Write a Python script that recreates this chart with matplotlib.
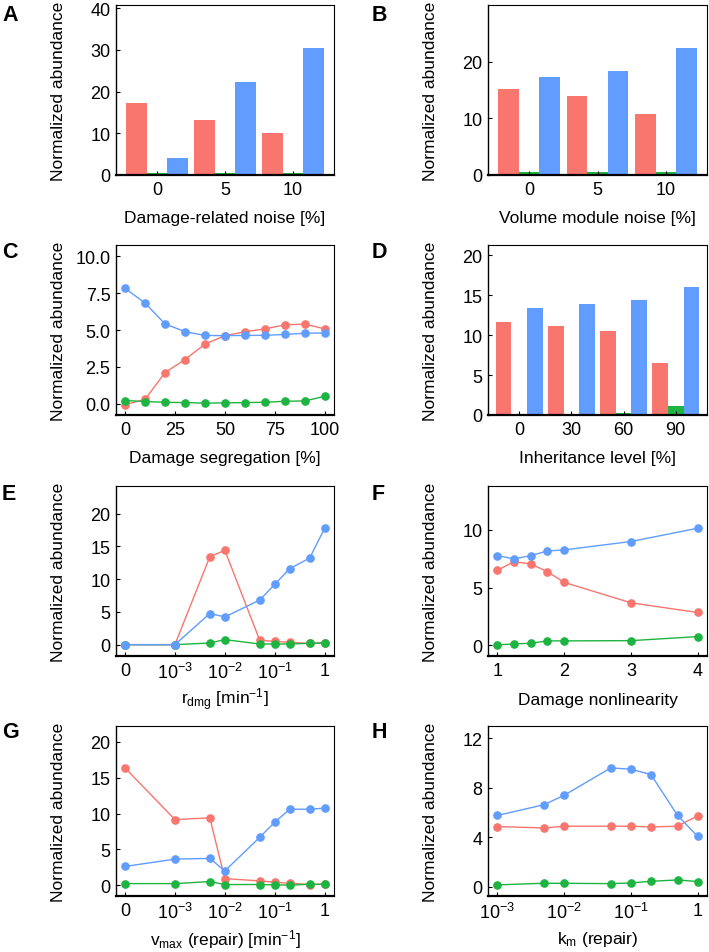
import numpy as np
import matplotlib
matplotlib.use("Agg")
import matplotlib.pyplot as plt

plt.rcParams['font.family'] = ['Liberation Sans', 'DejaVu Sans']
plt.rcParams['mathtext.fontset'] = 'custom'
plt.rcParams['mathtext.rm'] = 'Liberation Sans'
plt.rcParams['mathtext.it'] = 'Liberation Sans:italic'
plt.rcParams['mathtext.bf'] = 'Liberation Sans:bold'

RED = '#F8766D'
GREEN = '#1DB441'
BLUE = '#619CFF'

# ---- Panel A ----
a_cats = ['0', '5', '10']
a_red = [17.2, 13.2, 10.0]
a_green = [0.6, 0.6, 0.6]
a_blue = [4.1, 22.4, 30.5]

# ---- Panel B ----
b_cats = ['0', '5', '10']
b_red = [15.1, 14.0, 10.7]
b_green = [0.6, 0.55, 0.55]
b_blue = [17.3, 18.4, 22.4]

# ---- Panel C ----
c_x = [0, 10, 20, 30, 40, 50, 60, 70, 80, 90, 100]
c_red = [-0.05, 0.3, 2.12, 3.0, 4.05, 4.62, 4.88, 5.08, 5.35, 5.4, 5.07]
c_green = [0.23, 0.16, 0.11, 0.09, 0.05, 0.07, 0.09, 0.11, 0.18, 0.2, 0.52]
c_blue = [7.82, 6.83, 5.41, 4.89, 4.63, 4.62, 4.63, 4.64, 4.7, 4.78, 4.8]

# ---- Panel D ----
d_cats = ['0', '30', '60', '90']
d_red = [11.6, 11.1, 10.5, 6.5]
d_green = [0.1, 0.15, 0.25, 1.15]
d_blue = [13.4, 13.9, 14.4, 16.0]

# ---- Panel E ----
e_x = [0, 0.001, 0.005, 0.01, 0.05, 0.1, 0.2, 0.5, 1]
e_red = [0, 0, 13.4, 14.4, 0.66, 0.5, 0.35, 0.2, 0.3]
e_green = [0, 0, 0.25, 0.77, 0.1, 0.1, 0.1, 0.2, 0.25]
e_blue = [0, 0, 4.75, 4.23, 6.8, 9.2, 11.6, 13.2, 17.76]

# ---- Panel F ----
f_x = [1, 1.25, 1.5, 1.75, 2, 3, 4]
f_red = [6.49, 7.25, 7.04, 6.38, 5.45, 3.68, 2.84]
f_green = [0.03, 0.12, 0.17, 0.38, 0.38, 0.4, 0.75]
f_blue = [7.77, 7.48, 7.77, 8.17, 8.26, 8.99, 10.14]

# ---- Panel G ----
g_x = [0, 0.001, 0.005, 0.01, 0.05, 0.1, 0.2, 0.5, 1]
g_red = [16.36, 9.16, 9.39, 0.93, 0.6, 0.42, 0.28, 0.1, 0.14]
g_green = [0.23, 0.23, 0.51, 0.1, 0.1, 0.05, 0.02, 0.14, 0.14]
g_blue = [2.62, 3.64, 3.74, 2.0, 6.68, 8.79, 10.6, 10.6, 10.75]

# ---- Panel H ----
h_x = [0.001, 0.005, 0.01, 0.05, 0.1, 0.2, 0.5, 1]
h_red = [4.86, 4.75, 4.89, 4.89, 4.89, 4.83, 4.89, 5.73]
h_green = [0.14, 0.27, 0.27, 0.24, 0.3, 0.43, 0.54, 0.41]
h_blue = [5.76, 6.63, 7.39, 9.61, 9.5, 9.07, 5.76, 4.07]

log_ticks = [0.001, 0.01, 0.1, 1]
log_ticklabels = ['$10^{-3}$', '$10^{-2}$', '$10^{-1}$', '1']

W, H = 709, 953
fig = plt.figure(figsize=(W / 100, H / 100), dpi=100)

cols = [(116, 334), (488, 707)]
rows = [(6, 176), (246, 416), (487, 657), (727, 897)]

TICK_FS = 13
LAB_FS = 12.5


def make_ax(r, c):
    l, rr = cols[c]
    t, b = rows[r]
    ax = fig.add_axes([l / W, 1 - b / H, (rr - l) / W, (b - t) / H])
    for s in ['top', 'right']:
        ax.spines[s].set_linewidth(0.8)
    ax.spines['left'].set_linewidth(1.0)
    ax.spines['bottom'].set_linewidth(1.6)
    ax.tick_params(direction='in', length=3, width=0.8, labelsize=TICK_FS, pad=4)
    ax.tick_params(axis='x', pad=4.5)
    ax.minorticks_off()
    ax.set_ylabel('Normalized abundance', fontsize=LAB_FS)
    ax.yaxis.set_label_coords(-50 / (rr - l), 0.5)
    return ax


def letter(r, c, s):
    xs = [2, 372]
    ys = [5, 242, 484, 722]
    fig.text(xs[c] / W, 1 - ys[r] / H, s, fontsize=15.5, fontweight='bold',
             va='top', ha='left')


def bars(ax, cats, red, green, blue):
    x = np.arange(len(cats))
    w = 0.3
    ax.bar(x - w, red, w, color=RED, linewidth=0)
    ax.bar(x, green, w, color=GREEN, linewidth=0)
    ax.bar(x + w, blue, w, color=BLUE, linewidth=0)
    ax.set_xticks(x)
    ax.set_xticklabels(cats)
    ax.set_xlim(-0.6, len(cats) - 1 + 0.6)


def lines(ax, x, red, green, blue):
    kw = dict(marker='o', markersize=5.2, linewidth=1.0)
    ax.plot(x, red, color=RED, **kw)
    ax.plot(x, green, color=GREEN, **kw)
    ax.plot(x, blue, color=BLUE, **kw)


def xlab(ax, s, r):
    t, b = rows[r]
    ax.set_xlabel(s, fontsize=LAB_FS)
    ax.xaxis.set_label_coords(0.5, -43 / (b - t))
    ax.xaxis.label.set_va('center')


ZERO_POS = -4.0  # 0 is shown one decade left of 10^-3


def fwd(x):
    x = np.asarray(x, dtype=float)
    with np.errstate(divide='ignore', invalid='ignore'):
        lg = np.log10(np.where(x > 0, x, 1.0))
    return np.where(x > 0, lg, ZERO_POS)


def inv(y):
    return 10 ** np.asarray(y, dtype=float)


def zero_log_axis(ax):
    ax.set_xscale('function', functions=(fwd, inv))
    ax.set_xticks([0] + log_ticks)
    ax.set_xticklabels(['0'] + log_ticklabels)
    ax.minorticks_off()
    ax.set_xlim(10 ** -4.18, 10 ** 0.187)


# A
ax = make_ax(0, 0)
bars(ax, a_cats, a_red, a_green, a_blue)
ax.set_ylim(0, 40.8)
ax.set_yticks([0, 10, 20, 30, 40])
xlab(ax, 'Damage-related noise [%]', 0)
letter(0, 0, 'A')

# B
ax = make_ax(0, 1)
bars(ax, b_cats, b_red, b_green, b_blue)
ax.set_ylim(0, 30)
ax.set_yticks([0, 10, 20])
xlab(ax, 'Volume module noise [%]', 0)
letter(0, 1, 'B')

# C
ax = make_ax(1, 0)
lines(ax, c_x, c_red, c_green, c_blue)
ax.set_xlim(-4.5, 104.5)
ax.set_ylim(-0.75, 10.75)
ax.set_xticks([0, 25, 50, 75, 100])
ax.set_yticks([0, 2.5, 5, 7.5, 10])
ax.set_yticklabels(['0.0', '2.5', '5.0', '7.5', '10.0'])
xlab(ax, 'Damage segregation [%]', 1)
letter(1, 0, 'C')

# D
ax = make_ax(1, 1)
bars(ax, d_cats, d_red, d_green, d_blue)
ax.set_ylim(0, 21.3)
ax.set_yticks([0, 5, 10, 15, 20])
xlab(ax, 'Inheritance level [%]', 1)
letter(1, 1, 'D')

# E
ax = make_ax(2, 0)
ax.set_xscale('function', functions=(fwd, inv))
lines(ax, e_x, e_red, e_green, e_blue)
zero_log_axis(ax)
ax.set_ylim(-1.73, 24.2)
ax.set_yticks([0, 5, 10, 15, 20])
xlab(ax, r'r$_{\mathrm{dmg}}$ [min$^{-1}$]', 2)
letter(2, 0, 'E')

# F
ax = make_ax(2, 1)
lines(ax, f_x, f_red, f_green, f_blue)
ax.set_xlim(0.86, 4.14)
ax.set_xticks([1, 2, 3, 4])
ax.set_ylim(-0.93, 13.8)
ax.set_yticks([0, 5, 10])
xlab(ax, 'Damage nonlinearity', 2)
letter(2, 1, 'F')

# G
ax = make_ax(3, 0)
ax.set_xscale('function', functions=(fwd, inv))
lines(ax, g_x, g_red, g_green, g_blue)
zero_log_axis(ax)
ax.set_ylim(-1.5, 22.2)
ax.set_yticks([0, 5, 10, 15, 20])
xlab(ax, r'v$_{\mathrm{max}}$ (repair) [min$^{-1}$]', 3)
letter(3, 0, 'G')

# H
ax = make_ax(3, 1)
ax.set_xscale('log')
lines(ax, h_x, h_red, h_green, h_blue)
ax.set_xticks(log_ticks)
ax.set_xticklabels(log_ticklabels)
ax.minorticks_off()
ax.set_xlim(10 ** -3.14, 10 ** 0.14)
ax.set_ylim(-0.76, 13.0)
ax.set_yticks([0, 4, 8, 12])
xlab(ax, r'k$_{\mathrm{m}}$ (repair)', 3)
letter(3, 1, 'H')

fig.savefig('out.png', dpi=100)
